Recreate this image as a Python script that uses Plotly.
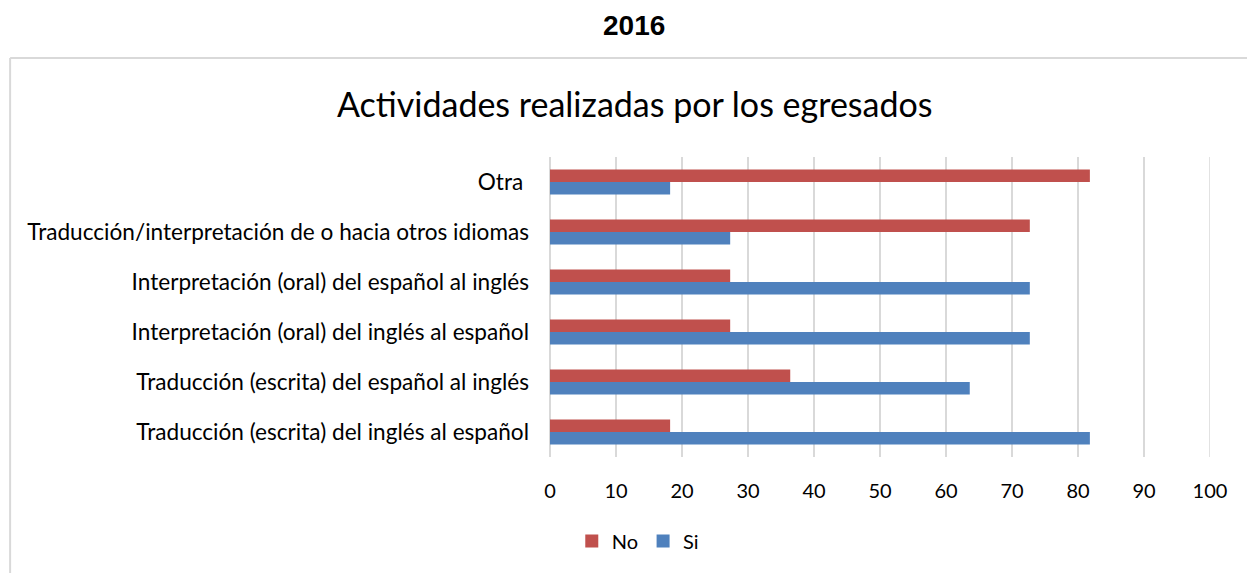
import plotly.graph_objects as go

categories = [
    "Traducción (escrita) del inglés al español",
    "Traducción (escrita) del español al inglés",
    "Interpretación (oral) del inglés al español",
    "Interpretación (oral) del español al inglés",
    "Traducción/interpretación de o hacia otros idiomas",
    "Otra ",
]
no_values = [18.2, 36.4, 27.3, 27.3, 72.7, 81.8]
si_values = [81.8, 63.6, 72.7, 72.7, 27.3, 18.2]
x_ticks = [0, 10, 20, 30, 40, 50, 60, 70, 80, 90, 100]

FONT = "Lato"
RED = "#C0504D"
BLUE = "#4F81BD"
fig = go.Figure()
fig.add_trace(go.Bar(y=categories, x=si_values, name="Si", orientation="h",
                     marker=dict(color=BLUE, line=dict(width=0)), showlegend=False))
fig.add_trace(go.Bar(y=categories, x=no_values, name="No", orientation="h",
                     marker=dict(color=RED, line=dict(width=0)), showlegend=False))
# legend entries with square swatches
fig.add_trace(go.Scatter(x=[None], y=[None], mode="markers", name="Si",
                         marker=dict(symbol="square", size=13, color=BLUE)))
fig.add_trace(go.Scatter(x=[None], y=[None], mode="markers", name="No",
                         marker=dict(symbol="square", size=13, color=RED)))

fig.update_layout(
    width=1247, height=565,
    margin=dict(l=542, r=45, t=149, b=116),
    paper_bgcolor="white", plot_bgcolor="white",
    barmode="group", bargap=0.5, bargroupgap=0,
    font=dict(family=FONT, size=22, color="#000000"),
    showlegend=True,
    legend=dict(orientation="h", traceorder="reversed", x=0.133, xanchor="center",
                y=-0.28, yanchor="middle", font=dict(family=FONT, size=20),
                itemwidth=30, tracegroupgap=0),
    xaxis=dict(range=[0, 100], tickvals=x_ticks, showgrid=True, gridcolor="#D9D9D9",
               gridwidth=1.5, zeroline=True, zerolinecolor="#D9D9D9", zerolinewidth=1.5,
               showline=False, ticks="", ticklabelstandoff=20,
               tickfont=dict(family=FONT, size=20)),
    yaxis=dict(showgrid=False, zeroline=False, showline=False, ticks="",
               ticklabelstandoff=20, tickfont=dict(family=FONT, size=22.6)),
    annotations=[
        dict(text="Actividades realizadas por los egresados", xref="paper", yref="paper",
             x=0.129, y=1.177, xanchor="center", yanchor="middle", showarrow=False,
             font=dict(family=FONT, size=34, color="#000000")),
        dict(text="<b>2016</b>", xref="paper", yref="paper",
             x=0.127, y=1.44, xanchor="center", yanchor="middle", showarrow=False,
             font=dict(family="Liberation Sans", size=28, color="#000000")),
    ],
    shapes=[
        dict(type="line", xref="x", yref="paper", x0=x_ticks[-1], x1=x_ticks[-1], y0=0, y1=1,
             line=dict(color="#D9D9D9", width=1.5), layer="below"),
        dict(type="line", xref="paper", yref="paper", x0=-0.818, x1=1.2, y0=1.33, y1=1.33,
             line=dict(color="#D9D9D9", width=2)),
        dict(type="line", xref="paper", yref="paper", x0=-0.818, x1=-0.818, y0=1.33, y1=-0.6,
             line=dict(color="#D9D9D9", width=2)),
    ],
)

fig.write_html("out.html")
